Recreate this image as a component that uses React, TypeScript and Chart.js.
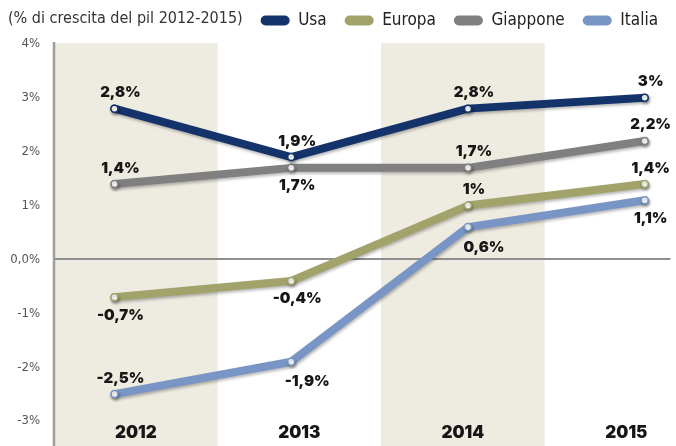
import React, { useEffect, useRef } from 'react';
import { Chart, registerables } from 'chart.js';

Chart.register(...registerables);

// ---- data ----
const YEARS = [2012, 2013, 2014, 2015];
const YEAR_LABELS = ['2012', '2013', '2014', '2015'];
const SERIES_NAMES = ['Usa', 'Europa', 'Giappone', 'Italia'];
const USA = [2.8, 1.9, 2.8, 3];
const EUROPA = [-0.7, -0.4, 1, 1.4];
const GIAPPONE = [1.4, 1.7, 1.7, 2.2];
const ITALIA = [-2.5, -1.9, 0.6, 1.1];
const Y_TICK_VALUES = [-3, -2, -1, 0, 1, 2, 3, 4];
const Y_TICK_LABELS = ['-3%', '-2%', '-1%', '0,0%', '1%', '2%', '3%', '4%'];
const TITLE = '(% di crescita del pil 2012-2015)';

const SERIES = [USA, EUROPA, GIAPPONE, ITALIA];

// ---- styles / layout ----
const COLORS = ['#14336a', '#a1a36b', '#808081', '#7895c5'];
const PLACEMENTS = [
  ['n', 'n', 'n', 'n'],
  ['s', 's', 'n', 'n'],
  ['n', 's', 'n', 'n'],
  ['n', 'se', 'se', 's'],
];
const OFFSETS: Record<string, [number, number]> = {
  n: [6, -16],
  s: [6, 18],
  se: [16, 20],
};
const CELL_MAX = 622 / 165; // shaded column cells
const SHADED_CELLS = [0, 2];
const X_MIN = 2011.658;
const X_MAX = 2015.146;
const FONT_COND = '"DejaVu Sans Condensed", "DejaVu Sans", sans-serif';
const FONT_HEAVY = 'Inter, "DejaVu Sans", sans-serif';

const fmt = (v: number) => String(v).replace('.', ',') + '%';

const legendSpacing = {
  id: 'legendSpacing',
  beforeInit(chart: any) {
    const legend = chart.legend;
    if (!legend) return;
    const orig = legend.fit;
    legend.fit = function () {
      orig.call(this);
      this.height += 5;
    };
  },
};

const bandsPlugin = {
  id: 'bands',
  beforeDraw(chart: any) {
    const { ctx, chartArea } = chart;
    const cells = chart.scales.cells;
    ctx.save();
    ctx.fillStyle = '#eeebe1';
    SHADED_CELLS.forEach((c) => {
      const x0 = cells.getPixelForValue(c);
      const x1 = cells.getPixelForValue(c + 1);
      ctx.fillRect(x0, chartArea.top - 1, x1 - x0, chart.height - chartArea.top + 1);
    });
    ctx.restore();
  },
  afterDraw(chart: any) {
    const { ctx, chartArea } = chart;
    ctx.save();
    ctx.strokeStyle = '#9d9d9d';
    ctx.lineWidth = 2.5;
    ctx.beginPath();
    ctx.moveTo(chartArea.left, chartArea.top - 2);
    ctx.lineTo(chartArea.left, chart.height);
    ctx.stroke();
    ctx.restore();
  },
};

const shadowPlugin = {
  id: 'lineShadow',
  beforeDatasetDraw(chart: any) {
    const ctx = chart.ctx;
    ctx.save();
    ctx.shadowColor = 'rgba(0,0,0,0.28)';
    ctx.shadowBlur = 3;
    ctx.shadowOffsetX = 1;
    ctx.shadowOffsetY = 2;
  },
  afterDatasetDraw(chart: any) {
    chart.ctx.restore();
  },
};

const labelsPlugin = {
  id: 'pointLabels',
  afterDatasetsDraw(chart: any) {
    const ctx = chart.ctx;
    ctx.save();
    ctx.font = `900 15px ${FONT_HEAVY}`;
    ctx.fillStyle = '#161616';
    ctx.textAlign = 'center';
    ctx.textBaseline = 'middle';
    chart.data.datasets.forEach((_ds: any, di: number) => {
      const meta = chart.getDatasetMeta(di);
      meta.data.forEach((pt: any, i: number) => {
        const off = OFFSETS[PLACEMENTS[di][i]];
        ctx.fillText(fmt(SERIES[di][i]), pt.x + off[0], pt.y + off[1]);
      });
    });
    ctx.restore();
  },
};

export default function App() {
  const ref = useRef<HTMLCanvasElement | null>(null);

  useEffect(() => {
    if (!ref.current) return;
    const chart = new Chart(ref.current, {
      type: 'line',
      data: {
        datasets: SERIES.map((vals, i) => ({
          label: SERIES_NAMES[i],
          data: vals.map((v, j) => ({ x: YEARS[j], y: v })),
          borderColor: COLORS[i],
          backgroundColor: COLORS[i],
          borderWidth: 8,
          borderCapStyle: 'round',
          borderJoinStyle: 'round',
          tension: 0,
          pointRadius: 3.5,
          pointBorderWidth: 1.5,
          pointBackgroundColor: '#ffffff',
          pointBorderColor: COLORS[i],
          xAxisID: 'x',
          yAxisID: 'y',
        })),
      },
      options: {
        animation: false,
        responsive: false,
        maintainAspectRatio: false,
        layout: { padding: { top: -6, right: 0, left: 0, bottom: 0 } },
        plugins: {
          tooltip: { enabled: false },
          legend: {
            position: 'top',
            align: 'end',
            labels: {
              boxWidth: 29,
              boxHeight: 10,
              useBorderRadius: true,
              borderRadius: 5,
              padding: 18,
              color: '#222',
              font: { family: FONT_COND, size: 17 },
              generateLabels: (c: any) =>
                c.data.datasets.map((ds: any, i: number) => ({
                  text: ds.label,
                  fillStyle: COLORS[i],
                  strokeStyle: COLORS[i],
                  lineWidth: 0,
                  hidden: false,
                  datasetIndex: i,
                  borderRadius: 5,
                  fontColor: '#222',
                })),
            },
          },
        },
        scales: {
          x: {
            type: 'linear',
            display: false,
            min: X_MIN,
            max: X_MAX,
          },
          cells: {
            type: 'linear',
            position: 'bottom',
            min: 0,
            max: CELL_MAX,
            grid: { display: false, drawTicks: false },
            border: { display: false },
            afterFit: (scale: any) => {
              scale.height = 25;
            },
            afterBuildTicks: (axis: any) => {
              axis.ticks = YEAR_LABELS.map((_, i) => ({ value: i + 0.5 }));
            },
            ticks: {
              autoSkip: false,
              maxRotation: 0,
              padding: 2,
              color: '#161616',
              font: { family: FONT_HEAVY, size: 17, weight: '900' },
              callback: (_v: any, i: number) => YEAR_LABELS[i],
            },
          },
          y: {
            type: 'linear',
            min: -3,
            max: 4,
            afterFit: (scale: any) => {
              scale.width = 54;
            },
            afterBuildTicks: (axis: any) => {
              axis.ticks = Y_TICK_VALUES.map((v) => ({ value: v }));
            },
            border: { display: false },
            grid: {
              drawTicks: false,
              color: (ctx: any) => (ctx.tick && ctx.tick.value === 0 ? '#8e8e8e' : 'rgba(0,0,0,0)'),
              lineWidth: (ctx: any) => (ctx.tick && ctx.tick.value === 0 ? 2 : 0),
            },
            ticks: {
              padding: 14,
              color: '#555',
              font: { family: FONT_COND, size: 13 },
              callback: (_v: any, i: number) => Y_TICK_LABELS[i],
            },
          },
        },
      } as any,
      plugins: [legendSpacing, bandsPlugin, shadowPlugin, labelsPlugin],
    });
    return () => chart.destroy();
  }, []);

  return (
    <div style={{ position: 'fixed', left: 0, top: 0, width: 676, height: 446, background: '#fff' }}>
      <canvas ref={ref} width={676} height={446} style={{ width: 676, height: 446, display: 'block' }} />
      <div
        style={{
          position: 'absolute',
          left: 8,
          top: 9,
          fontFamily: FONT_COND,
          fontSize: 16,
          lineHeight: '18px',
          color: '#333',
          whiteSpace: 'nowrap',
        }}
      >
        {TITLE}
      </div>
    </div>
  );
}
